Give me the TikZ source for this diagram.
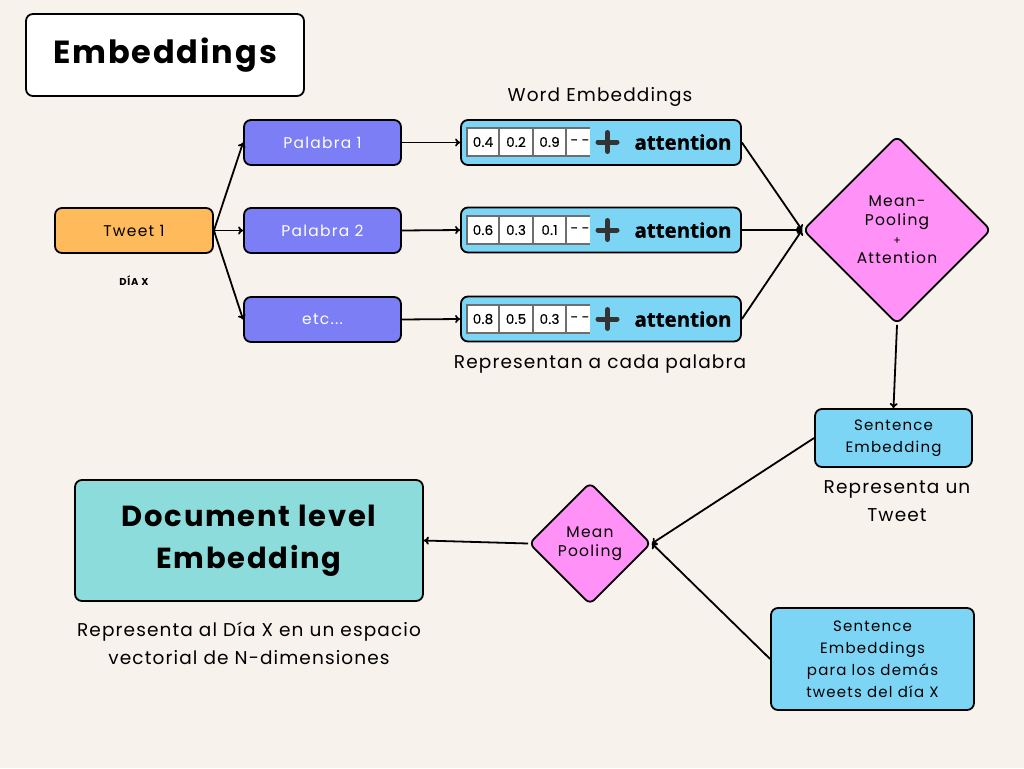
\documentclass[tikz,border=0pt]{standalone}
\usepackage{fontspec}
\setmainfont{Poppins}
\newfontfamily\attfont{Open Sans}
\usetikzlibrary{shapes.geometric,arrows.meta}

\definecolor{paper}{HTML}{F7F2EB}
\definecolor{tweetorange}{HTML}{FEBA5B}
\definecolor{wordviolet}{HTML}{7B7EF4}
\definecolor{embblue}{HTML}{7DD5F5}
\definecolor{poolpink}{HTML}{FF91F7}
\definecolor{docteal}{HTML}{8BDCDA}
\definecolor{cellgray}{HTML}{6E6E6E}
\definecolor{plusgray}{HTML}{333333}

\tikzset{
  box/.style={draw=black, line width=1.8pt, rounded corners=7pt, inner sep=0pt, align=center},
  tweetbox/.style={box, fill=tweetorange, minimum width=158pt, minimum height=45pt,
    font=\fontsize{15.5}{18}\selectfont\addfontfeatures{LetterSpace=8}},
  wordbox/.style={box, fill=wordviolet, text=white, minimum width=157pt, minimum height=45pt,
    font=\fontsize{15.5}{18}\selectfont\addfontfeatures{LetterSpace=8}},
  embbox/.style={box, fill=embblue, minimum width=280pt, minimum height=45pt},
  sentbox/.style={box, fill=embblue, font=\fontsize{15}{22}\selectfont\addfontfeatures{LetterSpace=8}},
  pool/.style={diamond, draw=black, line width=1.8pt, rounded corners=6pt, fill=poolpink,
    inner sep=0pt, align=center, font=\fontsize{15.5}{19}\selectfont\addfontfeatures{LetterSpace=8}},
  caption/.style={inner sep=0pt, align=center, font=\fontsize{18.5}{28}\selectfont\addfontfeatures{LetterSpace=6}},
  link/.style={line width=1.8pt, -{To[length=5pt,width=8pt]}},
  cell/.style={font=\fontsize{13.5}{14}\selectfont\addfontfeatures{LetterSpace=2,FakeBold=0.6}, inner sep=0pt},
}

% one word-embedding row: vector cells, a plus sign and the word "attention"
\newcommand\vecrow[5]{%
  \fill[white] (467,#1-14) rectangle (590,#1+14);
  \draw[cellgray, line width=1.2pt] (590,#1-14) -- (467,#1-14) -- (467,#1+14) -- (590,#1+14);
  \foreach \xx in {499,533,566} \draw[cellgray, line width=1.2pt] (\xx,#1-14) -- (\xx,#1+14);
  \node[cell] (#5a) at (483,#1) {#2};
  \node[cell] (#5b) at (516,#1) {#3};
  \node[cell] (#5c) at (549.5,#1) {#4};
  \node[cell] (#5d) at (580,#1) {- -};
  \draw[plusgray, line width=5pt, line cap=round] (598,#1) -- (617,#1) (607.5,#1-9.5) -- (607.5,#1+9.5);
  \node[inner sep=0pt, font=\attfont\bfseries\fontsize{20.5}{22}\selectfont\addfontfeatures{FakeBold=0.8}] (#5t) at (683,#1) {attention};
}

\begin{document}
\begin{tikzpicture}[x=1pt, y=-1pt]
\fill[paper] (0,0) rectangle (1024,768);
\useasboundingbox (0,0) rectangle (1024,768);

% title
\node[box, fill=white, minimum width=278pt, minimum height=82pt,
  font=\bfseries\fontsize{32}{34}\selectfont\addfontfeatures{LetterSpace=6}] (title) at (165,55) {Embeddings};

% tweet and its words
\node[tweetbox] (tw) at (134,230.5) {Tweet 1};
\node[inner sep=0pt, font=\bfseries\fontsize{10}{12}\selectfont\addfontfeatures{LetterSpace=8}] (dia) at (134,281) {DÍA X};

\node[wordbox] (p1) at (322.5,142.5) {Palabra 1};
\node[wordbox] (p2) at (322.5,230.5) {Palabra 2};
\node[wordbox] (p3) at (322.5,319.5) {etc...};

% word embeddings
\node[caption] (wel) at (600,97) {Word Embeddings};
\node[embbox] (e1) at (601,142.5) {};
\node[embbox] (e2) at (601,230) {};
\node[embbox] (e3) at (601,319) {};
\vecrow{142}{0.4}{0.2}{0.9}{r1}
\vecrow{230}{0.6}{0.3}{0.1}{r2}
\vecrow{319}{0.8}{0.5}{0.3}{r3}
\node[caption] (rep) at (600,364) {Representan a cada palabra};

% pooling of the words into a sentence embedding
\node[pool, minimum width=188pt, minimum height=188pt] (d1) at (897,230) {Mean-\\Pooling\\{\fontsize{11}{14}\selectfont +}\\Attention};
\node[sentbox, minimum width=157pt, minimum height=58pt] (se) at (893.5,438) {Sentence\\Embedding};
\node[caption] (rt) at (897,501) {Representa un\\Tweet};

\node[sentbox, minimum width=203pt, minimum height=102pt] (others) at (872.5,659)
  {Sentence\\Embeddings\\para los demás\\tweets del día X};

% document level embedding
\node[pool, minimum width=122pt, minimum height=122pt] (mp) at (590,543.5) {Mean\\Pooling};
\node[box, fill=docteal, minimum width=348pt, minimum height=121pt,
  font=\bfseries\fontsize{29}{42}\selectfont\addfontfeatures{LetterSpace=6}] (doc) at (249,540.5) {Document level\\Embedding};
\node[caption] (rd) at (249,643) {Representa al Día X en un espacio\\vectorial de N-dimensiones};

% connectors
\draw[link] (tw.east) -- (p1.west);
\draw[link] (tw.east) -- (p2.west);
\draw[link] (tw.east) -- (p3.west);
\draw[link] (p1.east) -- (e1.west);
\draw[link] (p2.east) -- (e2.west);
\draw[link] (p3.east) -- (e3.west);
\draw[link] (e1.east) -- (d1.west);
\draw[link] (e2.east) -- (d1.west);
\draw[link] (e3.east) -- (d1.west);
\draw[link] (d1.south) -- (se.north);
\draw[link] (se.west) -- (mp.east);
\draw[link] (others.west) -- (mp.east);
\draw[link] (mp.west) -- (doc.east);
\end{tikzpicture}
\end{document}
